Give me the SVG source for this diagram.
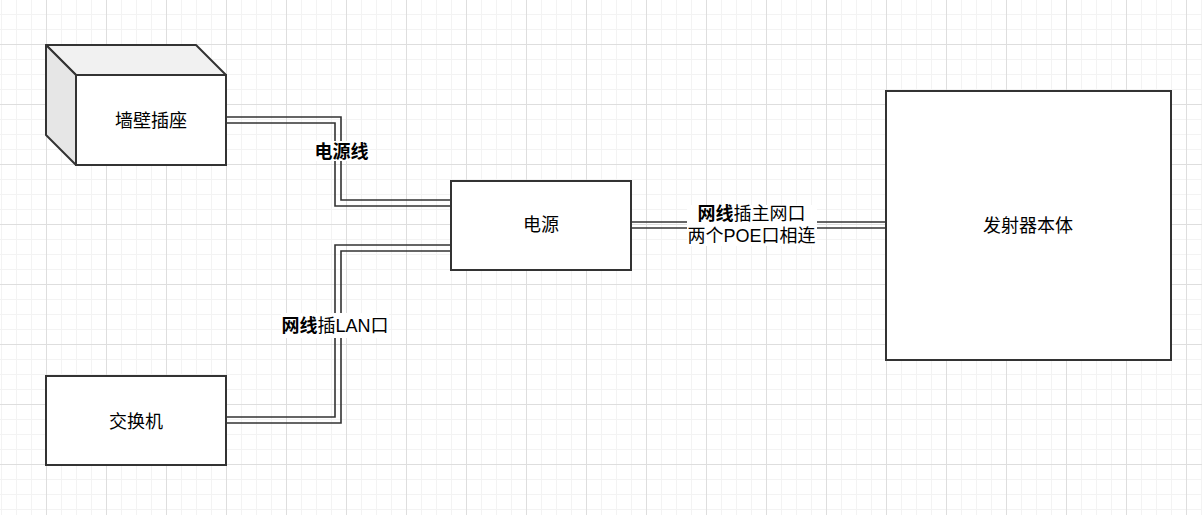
<svg xmlns="http://www.w3.org/2000/svg" width="1202" height="515" viewBox="0 0 1202 515">
<style>
.box{fill:#ffffff;stroke:#333333;stroke-width:2}
.lnk{fill:none;stroke:#333333;stroke-width:1.6}
.t{font-family:"Liberation Sans","Noto Sans CJK SC",sans-serif;font-size:18px;fill:#000000;text-anchor:middle}
.b{font-weight:bold}
.bg{fill:#ffffff}
</style>
<defs>
<pattern id="grid" patternUnits="userSpaceOnUse" x="46" y="44" width="60" height="60">
<rect x="15" y="0" width="1" height="60" fill="#f3f3f3"/>
<rect x="30" y="0" width="1" height="60" fill="#f3f3f3"/>
<rect x="45" y="0" width="1" height="60" fill="#f3f3f3"/>
<rect x="0" y="15" width="60" height="1" fill="#f3f3f3"/>
<rect x="0" y="30" width="60" height="1" fill="#f3f3f3"/>
<rect x="0" y="45" width="60" height="1" fill="#f3f3f3"/>
<rect x="0" y="0" width="1" height="60" fill="#dedede"/>
<rect x="0" y="0" width="60" height="1" fill="#dedede"/>
</pattern>
</defs>
<rect x="0" y="0" width="1202" height="515" fill="#ffffff"/>
<rect x="0" y="0" width="1202" height="515" fill="url(#grid)"/>

<g id="connectors">
<g id="edge-power-cable">
<polyline class="lnk" points="226,117 341,117 341,200 451,200"/>
<polyline class="lnk" points="226,123 335,123 335,206 451,206"/>
<rect class="bg" x="314" y="141" width="56" height="20"/>
<text class="t b" x="341.5" y="157.5">电源线</text>
</g>
<g id="edge-lan-cable">
<polyline class="lnk" points="226,417 335,417 335,245 451,245"/>
<polyline class="lnk" points="226,423 341,423 341,251 451,251"/>
<rect class="bg" x="281" y="313" width="108" height="25"/>
<text class="t" x="335" y="332"><tspan class="b">网线</tspan>插LAN口</text>
</g>
<g id="edge-poe-cable">
<line class="lnk" x1="631" y1="222" x2="886" y2="222"/>
<line class="lnk" x1="631" y1="228" x2="886" y2="228"/>
<rect class="bg" x="687" y="205" width="130" height="41"/>
<text class="t" x="751.5" y="220"><tspan class="b">网线</tspan><tspan>插主网口</tspan><tspan x="751.5" dy="21.5">两个POE口相连</tspan></text>
</g>
</g>

<g id="node-wall-socket">
<polygon points="46,45 196,45 226,75 76,75" fill="#f1f1f1" stroke="#333333" stroke-width="2" stroke-linejoin="round"/>
<polygon points="46,45 76,75 76,165 46,135" fill="#e6e6e6" stroke="#333333" stroke-width="2" stroke-linejoin="round"/>
<rect class="box" x="76" y="75" width="150" height="90"/>
<text class="t" x="151" y="127">墙壁插座</text>
</g>

<g id="node-power-supply">
<rect class="box" x="451" y="181" width="180" height="89"/>
<text class="t" x="541" y="231">电源</text>
</g>

<g id="node-switch">
<rect class="box" x="46" y="376" width="180" height="89"/>
<text class="t" x="136" y="427.5">交换机</text>
</g>

<g id="node-transmitter">
<rect class="box" x="886" y="91" width="285" height="269"/>
<text class="t" x="1028" y="231.5">发射器本体</text>
</g>
</svg>
